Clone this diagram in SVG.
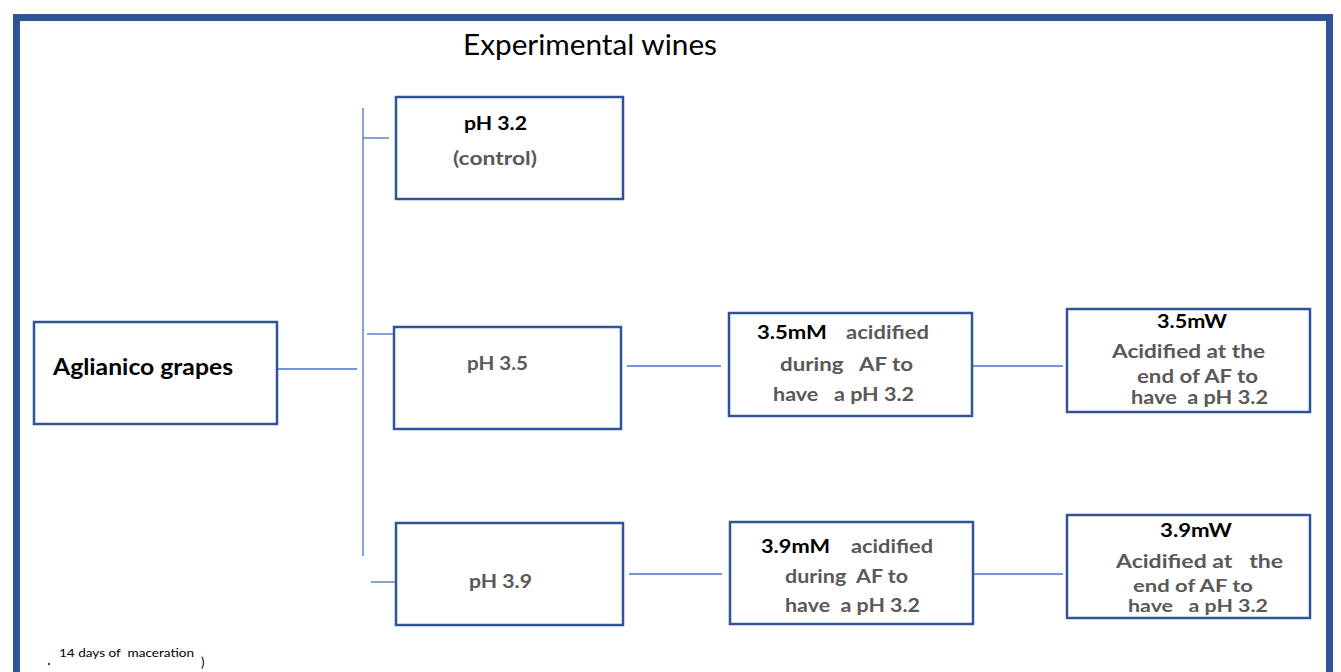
<svg xmlns="http://www.w3.org/2000/svg" width="1341" height="672" viewBox="0 0 1341 672">
<style>
text{font-family:Lato,"Open Sans","Liberation Sans",sans-serif;white-space:pre}
.b{font-weight:700;font-size:18px}
.s{font-size:16.5px}
.k{fill:#000}
.g{fill:#595959}
.box{fill:#fff;stroke:#2F5597;stroke-width:2.5}
.c line{stroke:#4472C4;stroke-width:1.3}
</style>
<rect width="1341" height="672" fill="#fff"/>
<rect x="16.5" y="17.5" width="1313" height="700" fill="none" stroke="#2F5597" stroke-width="7"/>
<text x="463" y="55" font-size="28" class="k" textLength="254" lengthAdjust="spacingAndGlyphs">Experimental wines</text>
<g class="c" id="connectors">
<line x1="363" y1="108" x2="363" y2="556"/>
<line x1="277" y1="369" x2="357" y2="369"/>
<line x1="363" y1="138" x2="389" y2="138"/>
<line x1="367" y1="334" x2="393" y2="334"/>
<line x1="371" y1="582" x2="396" y2="582"/>
<line x1="627" y1="366" x2="721" y2="366"/>
<line x1="972" y1="366" x2="1063" y2="366"/>
<line x1="629" y1="574" x2="722" y2="574"/>
<line x1="970" y1="574" x2="1063" y2="574"/>
</g>
<g id="aglianico">
<rect class="box" x="34" y="322" width="243" height="102"/>
<text x="53" y="375" class="b k" style="font-size:23px" textLength="180" lengthAdjust="spacingAndGlyphs">Aglianico grapes</text>
</g>
<g id="ph32">
<rect class="box" x="396" y="97" width="227" height="102"/>
<text x="464" y="130" class="b k" textLength="63" lengthAdjust="spacingAndGlyphs">pH 3.2</text>
<text x="453" y="165" class="b g" textLength="84" lengthAdjust="spacingAndGlyphs">(control)</text>
</g>
<g id="ph35">
<rect class="box" x="394" y="327" width="227" height="102"/>
<text x="467" y="370" class="b g" textLength="61" lengthAdjust="spacingAndGlyphs">pH 3.5</text>
</g>
<g id="ph39">
<rect class="box" x="396" y="523" width="227" height="102"/>
<text x="469" y="588" class="b g" textLength="63" lengthAdjust="spacingAndGlyphs">pH 3.9</text>
</g>
<g id="m35">
<rect class="box" x="729" y="313" width="243" height="103"/>
<text x="757" y="339" class="b k" textLength="70" lengthAdjust="spacingAndGlyphs">3.5mM</text>
<text x="846" y="339" class="b g" textLength="83" lengthAdjust="spacingAndGlyphs">acidified</text>
<text x="780" y="371" class="b g" textLength="133" lengthAdjust="spacingAndGlyphs">during   AF to</text>
<text x="773" y="401" class="b g" textLength="141" lengthAdjust="spacingAndGlyphs">have   a pH 3.2</text>
</g>
<g id="w35">
<rect class="box" x="1067" y="309" width="243" height="103"/>
<text x="1157" y="328" class="b k" textLength="70" lengthAdjust="spacingAndGlyphs">3.5mW</text>
<text x="1112" y="358" class="b g" textLength="153" lengthAdjust="spacingAndGlyphs">Acidified at the</text>
<text x="1137" y="383" class="b g" textLength="121" lengthAdjust="spacingAndGlyphs">end of AF to</text>
<text x="1131" y="404" class="b g" textLength="137" lengthAdjust="spacingAndGlyphs">have  a pH 3.2</text>
</g>
<g id="m39">
<rect class="box" x="730" y="522" width="243" height="102"/>
<text x="761" y="553" class="b k" textLength="69" lengthAdjust="spacingAndGlyphs">3.9mM</text>
<text x="851" y="553" class="b g" textLength="82" lengthAdjust="spacingAndGlyphs">acidified</text>
<text x="785" y="583" class="b g" textLength="123" lengthAdjust="spacingAndGlyphs">during  AF to</text>
<text x="785" y="612" class="b g" textLength="135" lengthAdjust="spacingAndGlyphs">have  a pH 3.2</text>
</g>
<g id="w39">
<rect class="box" x="1067" y="515" width="243" height="103"/>
<text x="1160" y="537" class="b k" textLength="72" lengthAdjust="spacingAndGlyphs">3.9mW</text>
<text x="1116" y="568" class="b g" textLength="167" lengthAdjust="spacingAndGlyphs">Acidified at   the</text>
<text x="1133" y="592" class="b g s" textLength="120" lengthAdjust="spacingAndGlyphs">end of AF to</text>
<text x="1128" y="612" class="b g s" textLength="140" lengthAdjust="spacingAndGlyphs">have   a pH 3.2</text>
</g>
<g id="footnote">
<circle cx="49" cy="664" r="1" fill="#000"/>
<text x="59" y="657" font-size="12" class="k" textLength="135" lengthAdjust="spacingAndGlyphs">14 days of  maceration</text>
<text x="201" y="667" font-size="13" class="k">)</text>
</g>
</svg>
